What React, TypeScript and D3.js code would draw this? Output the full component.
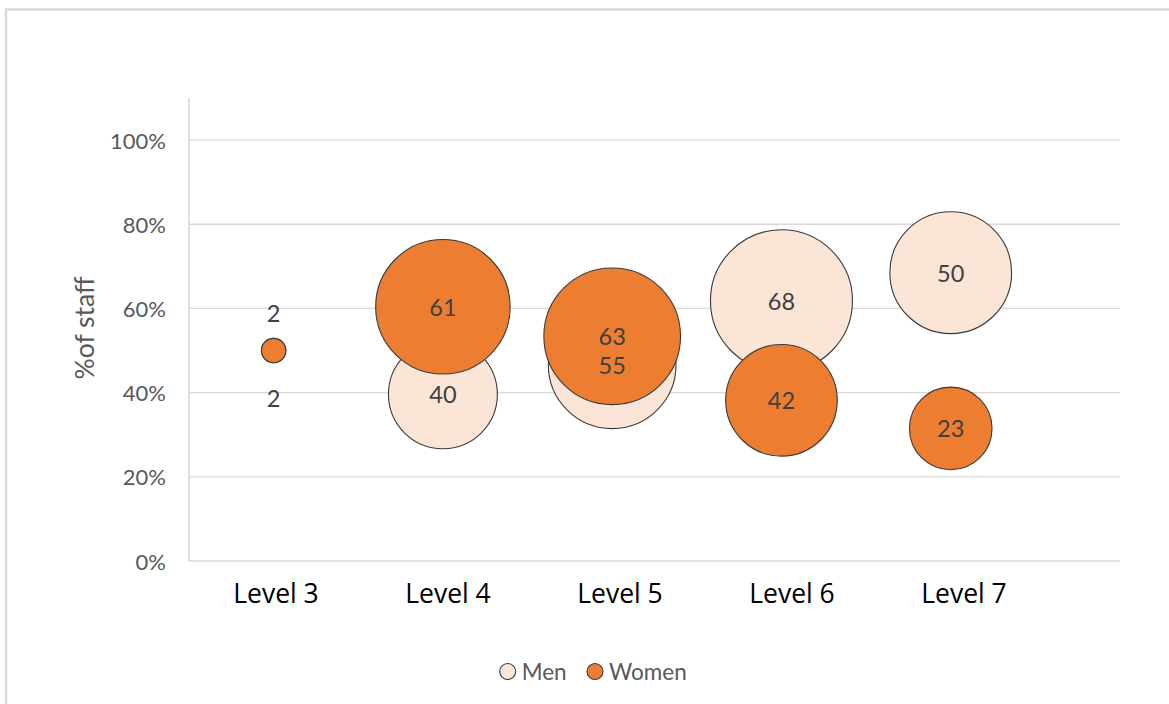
import React from "react";
import * as d3 from "d3";

const levels = ["Level 3", "Level 4", "Level 5", "Level 6", "Level 7"];
const men = [2, 40, 55, 68, 50];
const women = [2, 61, 63, 42, 23];
const yTicks = [0, 0.2, 0.4, 0.6, 0.8, 1.0];
const seriesNames = ["Men", "Women"];
const seriesColors = ["#FBE5D6", "#ED7D31"];

const W = 1169;
const H = 704;

export default function App() {
  const x = d3.scaleLinear().domain([0.5, 6]).range([189, 1120]);
  const xLab = d3.scaleLinear().domain([1, 5]).range([276, 964]);
  const y = d3.scaleLinear().domain([0, 1.1]).range([561, 98]);
  const r = d3.scaleSqrt().domain([0, 68]).range([0, 71]);
  const fmt = d3.format(".0%");

  const series = [men, women].map((vals, si) =>
    vals.map((v, i) => {
      const total = men[i] + women[i];
      return { si, i, v, pct: v / total };
    })
  );

  const labelFont = "Lato, 'Liberation Sans', sans-serif";

  return (
    <svg
      width={W}
      height={H}
      style={{ position: "absolute", left: 0, top: 0, background: "#fff" }}
    >
      <rect x={6} y={9.5} width={W + 20} height={H + 20} fill="none" stroke="#D9D9D9" strokeWidth={2.5} />
      {yTicks.map((t) => (
        <g key={t}>
          <line x1={189} x2={1120} y1={y(t)} y2={y(t)} stroke="#D9D9D9" strokeWidth={1.3} />
          <text
            x={166}
            y={y(t)}
            textAnchor="end"
            dominantBaseline="central"
            fontFamily={labelFont}
            fontSize={22}
            fill="#595959"
          >
            {fmt(t)}
          </text>
        </g>
      ))}
      <line x1={189} x2={189} y1={y(1.1)} y2={y(0)} stroke="#D0D0D0" strokeWidth={1.3} />
      <text
        transform={`translate(84,328) rotate(-90)`}
        textAnchor="middle"
        dominantBaseline="central"
        fontFamily={labelFont}
        fontSize={26.5}
        fill="#595959"
      >
        %of staff
      </text>
      {levels.map((l, i) => (
        <text
          key={l}
          x={xLab(i + 1)}
          y={603}
          textAnchor="middle"
          fontFamily="'Open Sans', sans-serif"
          fontSize={26.5}
          fill="#000"
        >
          {l}
        </text>
      ))}
      {series.map((s, si) =>
        s.map((d) => (
          <circle
            key={`${si}-${d.i}`}
            cx={x(d.i + 1)}
            cy={y(d.pct)}
            r={r(d.v)}
            fill={seriesColors[si]}
            stroke="#3a3a3a"
            strokeWidth={1.1}
          />
        ))
      )}
      {series.map((s, si) =>
        s.map((d) => {
          const same = men[d.i] === women[d.i];
          const off = same ? (si === 0 ? -(r(d.v) + 25) : r(d.v) + 35) : 0;
          return (
            <text
              key={`l${si}-${d.i}`}
              x={x(d.i + 1)}
              y={y(d.pct) + off}
              textAnchor="middle"
              dominantBaseline="central"
              fontFamily={labelFont}
              fontSize={23.5}
              fill="#404040"
            >
              {d.v}
            </text>
          );
        })
      )}
      {seriesNames.map((n, si) => {
        const cx = [507.7, 595][si];
        return (
          <g key={n}>
            <circle cx={cx} cy={671.5} r={8} fill={seriesColors[si]} stroke="#3a3a3a" strokeWidth={1.1} />
            <text
              x={cx + 14}
              y={671.5}
              dominantBaseline="central"
              fontFamily={labelFont}
              fontSize={22.5}
              fill="#595959"
            >
              {n}
            </text>
          </g>
        );
      })}
    </svg>
  );
}
